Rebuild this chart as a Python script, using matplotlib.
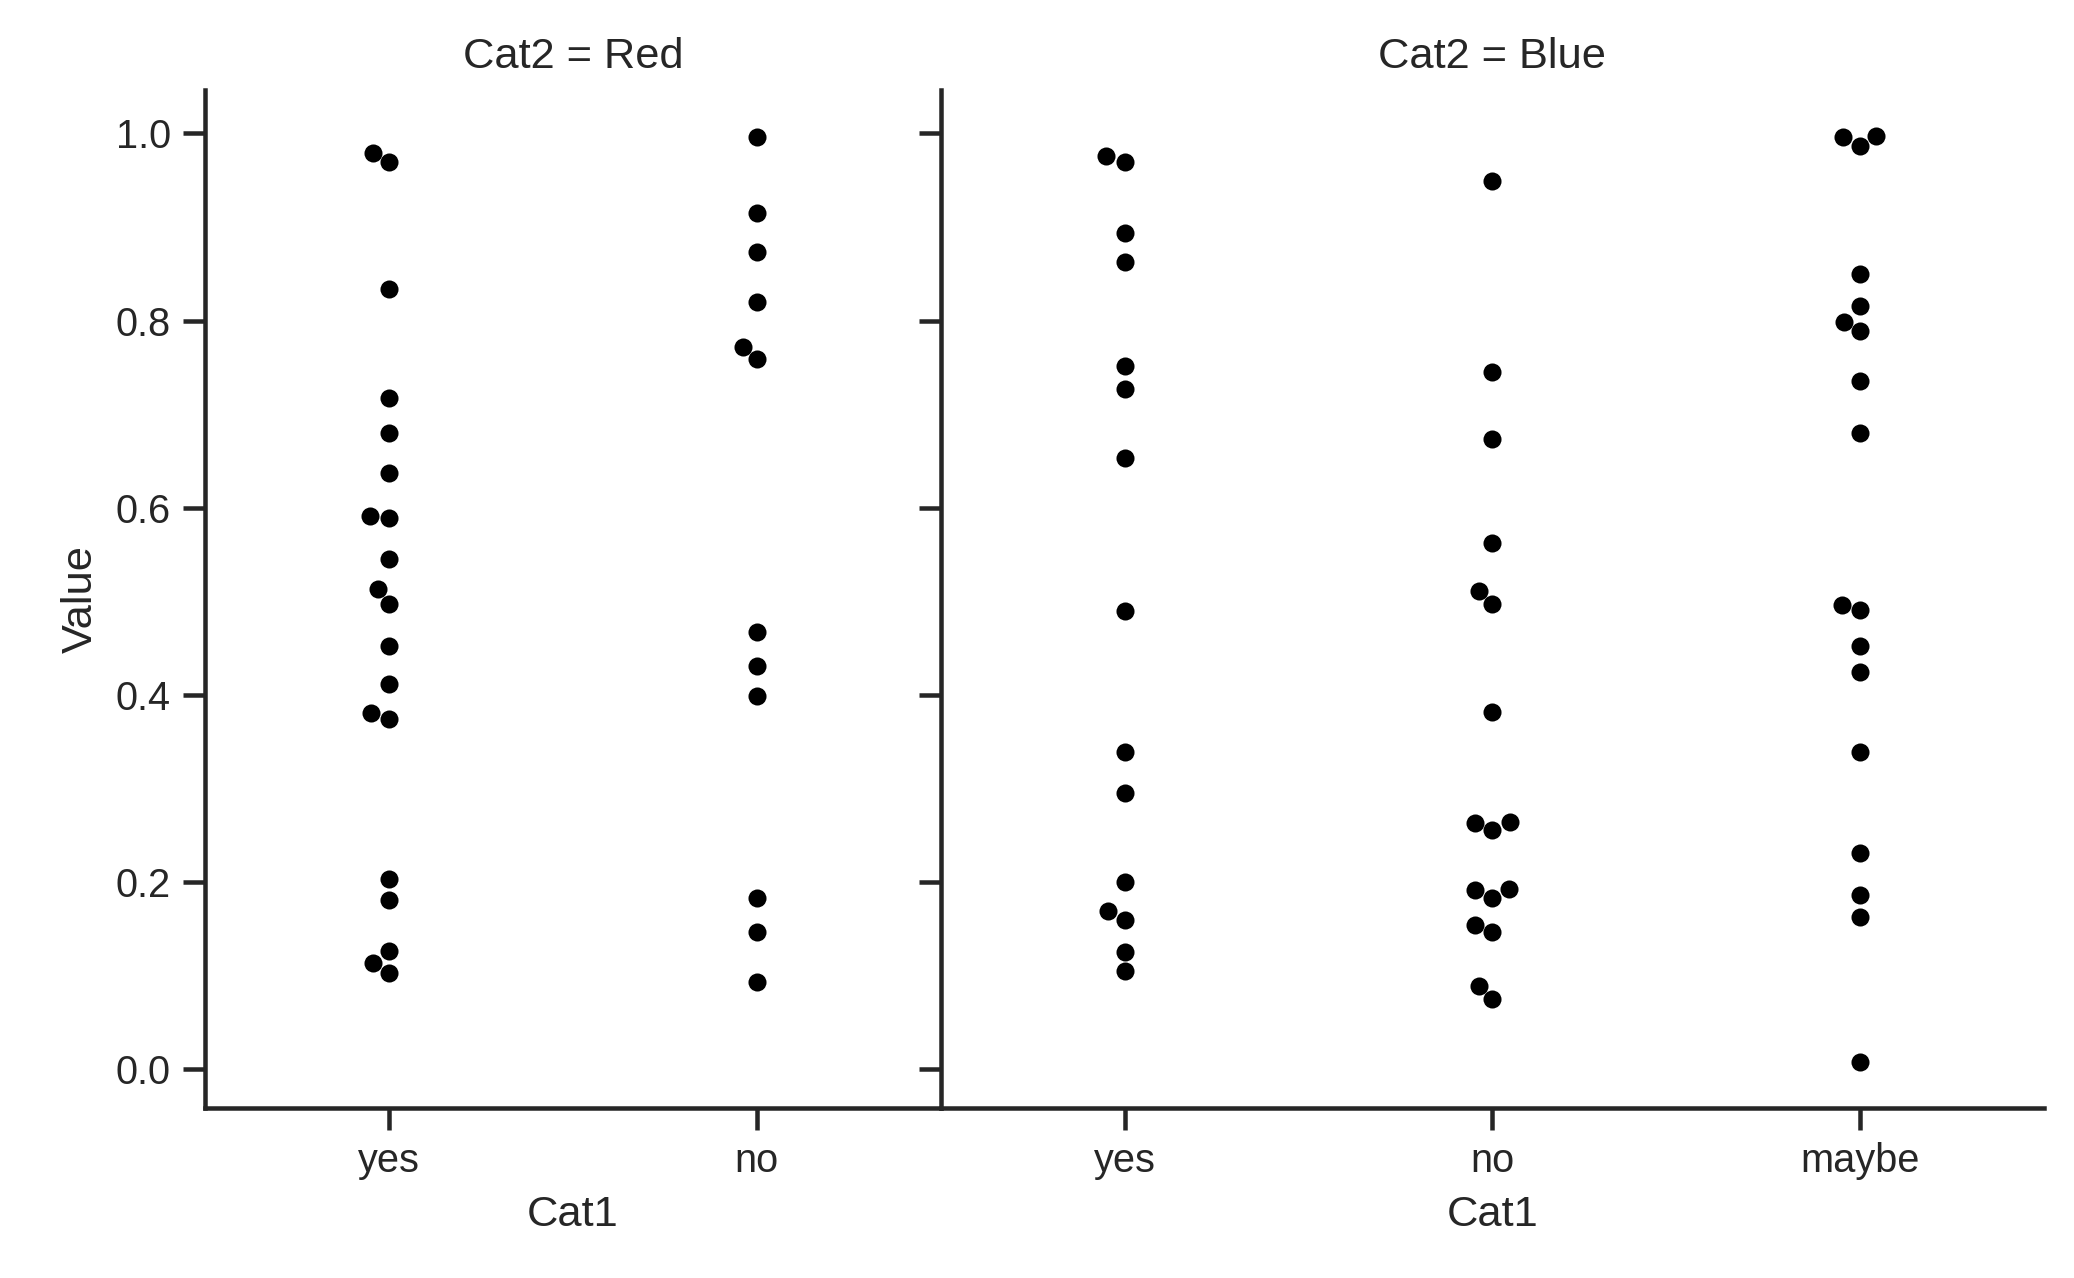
import matplotlib
matplotlib.use('Agg')
import matplotlib.pyplot as plt
import numpy as np
import pandas as pd
import seaborn as sns

# Values, grouped by panel (Cat2) and category (Cat1)
red_yes = [0.979, 0.969, 0.834, 0.717, 0.680, 0.637, 0.591, 0.589, 0.545, 0.513,
           0.497, 0.452, 0.412, 0.381, 0.374, 0.203, 0.181, 0.126, 0.113, 0.103]
red_no = [0.996, 0.915, 0.873, 0.820, 0.772, 0.759, 0.467, 0.431, 0.399, 0.183,
          0.147, 0.093]
blue_yes = [0.976, 0.970, 0.894, 0.863, 0.751, 0.727, 0.653, 0.490, 0.339, 0.295,
            0.200, 0.169, 0.159, 0.125, 0.105]
blue_no = [0.949, 0.745, 0.673, 0.562, 0.511, 0.497, 0.382, 0.264, 0.263, 0.256,
           0.193, 0.191, 0.183, 0.154, 0.147, 0.089, 0.075]
blue_maybe = [0.997, 0.996, 0.987, 0.850, 0.816, 0.799, 0.789, 0.735, 0.680, 0.496,
              0.491, 0.452, 0.424, 0.339, 0.231, 0.186, 0.163, 0.008]

panels = ["Red", "Blue"]
panel_cats = {"Red": ["yes", "no"], "Blue": ["yes", "no", "maybe"]}
panel_values = {"Red": [red_yes, red_no], "Blue": [blue_yes, blue_no, blue_maybe]}

sns.set_theme(style="ticks")
plt.rcParams['font.family'] = ['Arial', 'Liberation Sans', 'DejaVu Sans']

# rendered at a higher dpi so text and marks scale up like the reference
fig, axes = plt.subplots(1, 2, figsize=(2074 / 260, 1278 / 260), dpi=260, sharey=True,
                         gridspec_kw={"width_ratios": [2, 3]})
fig.subplots_adjust(left=205 / 2074, right=2044 / 2074,
                    top=1 - 90 / 1278, bottom=1 - 1108 / 1278, wspace=0)

for ax, name in zip(axes, panels):
    cats = panel_cats[name]
    rows = []
    for cat, vals in zip(cats, panel_values[name]):
        rows += [(cat, v) for v in vals]
    df = pd.DataFrame(rows, columns=["Cat1", "Value"])
    sns.swarmplot(data=df, x="Cat1", y="Value", order=cats, color="black",
                  size=5, ax=ax)
    ax.set_title(f"Cat2 = {name}")
    sns.despine(ax=ax)

axes[1].set_ylabel("")
axes[1].tick_params(labelleft=False)

fig.savefig("out.png")
